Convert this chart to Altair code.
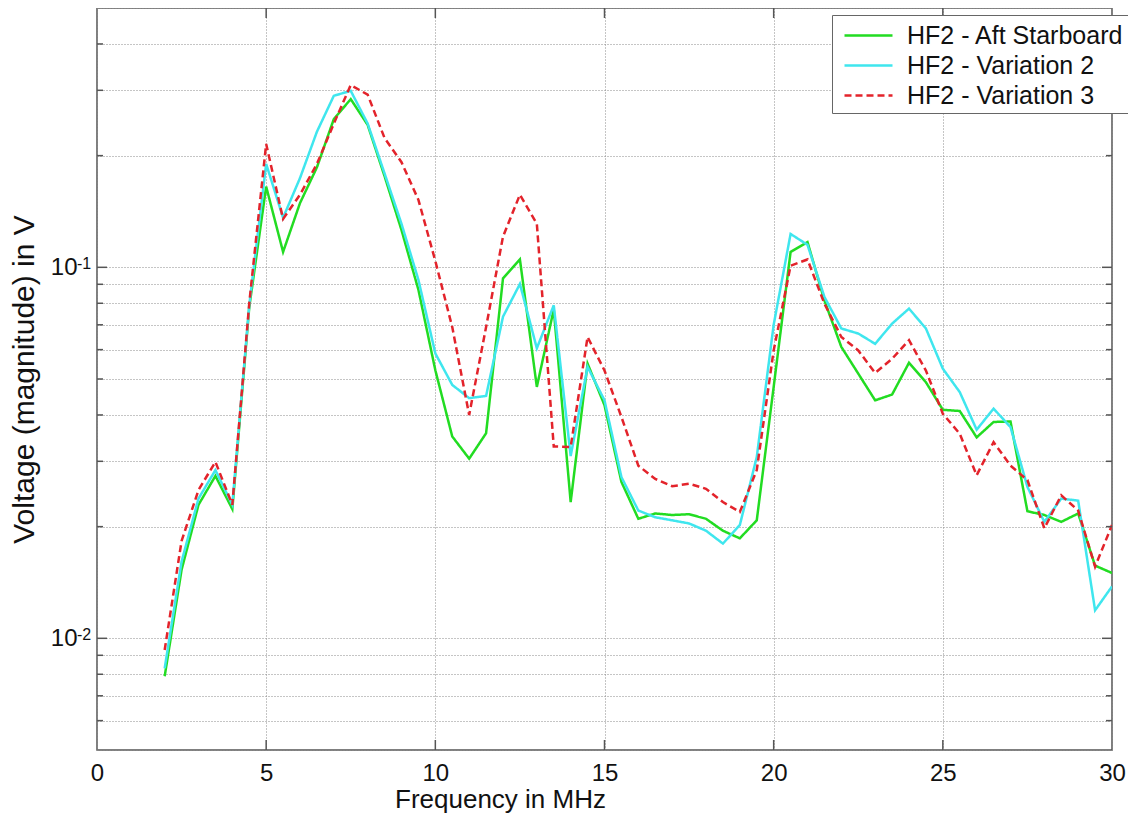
import altair as alt
import pandas as pd

# ---------------- data ----------------
freq = [2.0, 2.5, 3.0, 3.5, 4.0, 4.5, 5.0, 5.5, 6.0, 6.5, 7.0, 7.5, 8.0, 8.5,
        9.0, 9.5, 10.0, 10.5, 11.0, 11.5, 12.0, 12.5, 13.0, 13.5, 14.0, 14.5,
        15.0, 15.5, 16.0, 16.5, 17.0, 17.5, 18.0, 18.5, 19.0, 19.5, 20.0, 20.5,
        21.0, 21.5, 22.0, 22.5, 23.0, 23.5, 24.0, 24.5, 25.0, 25.5, 26.0, 26.5,
        27.0, 27.5, 28.0, 28.5, 29.0, 29.5, 30.0]

aft_starboard = [0.0079, 0.0153, 0.0229, 0.0274, 0.0223, 0.078, 0.165, 0.110,
                 0.149, 0.186, 0.251, 0.284, 0.242, 0.176, 0.126, 0.087, 0.0528,
                 0.035, 0.0305, 0.0357, 0.0934, 0.105, 0.0476, 0.077, 0.0233,
                 0.055, 0.0425, 0.0264, 0.021, 0.0217, 0.0215, 0.0216, 0.021,
                 0.0195, 0.0186, 0.0208, 0.0476, 0.110, 0.117, 0.0814, 0.061,
                 0.0517, 0.0438, 0.0454, 0.0553, 0.049, 0.0413, 0.041, 0.0348,
                 0.0383, 0.0384, 0.022, 0.0215, 0.0206, 0.0217, 0.0157, 0.015]

variation_2 = [0.0083, 0.0161, 0.0238, 0.0284, 0.0229, 0.079, 0.190, 0.136,
               0.174, 0.232, 0.290, 0.299, 0.244, 0.179, 0.131, 0.0925, 0.0586,
               0.0482, 0.0444, 0.045, 0.0736, 0.0902, 0.0605, 0.079, 0.031,
               0.0539, 0.0438, 0.0272, 0.0221, 0.0212, 0.0208, 0.0204, 0.0195,
               0.018, 0.0202, 0.0308, 0.070, 0.123, 0.115, 0.0832, 0.0684,
               0.0663, 0.0622, 0.0705, 0.0774, 0.0684, 0.0533, 0.0461, 0.0365,
               0.0416, 0.0371, 0.0256, 0.0206, 0.0238, 0.0235, 0.0119, 0.0138]

variation_3 = [0.0093, 0.0183, 0.0251, 0.0299, 0.0229, 0.080, 0.215, 0.135,
               0.157, 0.190, 0.244, 0.310, 0.292, 0.223, 0.192, 0.152, 0.104,
               0.069, 0.040, 0.069, 0.121, 0.157, 0.131, 0.0329, 0.0328,
               0.0649, 0.0527, 0.0395, 0.0292, 0.0269, 0.0257, 0.0261, 0.0253,
               0.0233, 0.0219, 0.0284, 0.0597, 0.101, 0.105, 0.0798, 0.0649,
               0.0597, 0.0519, 0.0567, 0.0636, 0.0527, 0.0403, 0.0356, 0.0275,
               0.0338, 0.0292, 0.0267, 0.0198, 0.0243, 0.0221, 0.0156, 0.0202]

series_names = ["HF2 - Aft Starboard", "HF2 - Variation 2", "HF2 - Variation 3"]
series_colors = ["#22dc22", "#3fe6ee", "#e3232b"]
series_dash = [[1, 0], [1, 0], [7, 4]]

x_tick_values = [0, 5, 10, 15, 20, 25, 30]
x_inner_ticks = [5, 10, 15, 20, 25]
y_grid_values = [0.005, 0.006, 0.007, 0.008, 0.009,
                 0.01, 0.02, 0.03, 0.04, 0.05, 0.06, 0.07, 0.08, 0.09,
                 0.1, 0.2, 0.3, 0.4, 0.5]
y_minor_ticks = [0.006, 0.007, 0.008, 0.009, 0.02, 0.03, 0.04, 0.05, 0.06,
                 0.07, 0.08, 0.09, 0.2, 0.3, 0.4]
y_major_ticks = [0.01, 0.1]
y_exponents = ["-2", "-1"]

x_title = "Frequency in MHz"
y_title = "Voltage (magnitude) in V"

# ---------------- tables ----------------
rows = []
for name, vals in zip(series_names, [aft_starboard, variation_2, variation_3]):
    for f, v in zip(freq, vals):
        rows.append({"freq": f, "v": v, "series": name})
df = pd.DataFrame(rows)

W, H = 1015, 742
FONT = "Liberation Sans"
FRAME = "#555555"

xscale = alt.Scale(domain=[0, 30], nice=False, zero=False)
yscale = alt.Scale(type="log", domain=[0.005, 0.5], nice=False)

x_axis = alt.Axis(values=x_tick_values, title=x_title, grid=True,
                  labelPadding=11, labelFlush=False, titleX=403, titleY=57,
                  titleAlign="center", titleBaseline="alphabetic", titleFontSize=26)
y_axis = alt.Axis(values=y_grid_values, title=y_title, grid=True,
                  labelExpr="(datum.value == 0.1 || datum.value == 0.01) ? '10' : ''",
                  labelPadding=20, titleX=-64, titleY=H / 2,
                  titleAngle=-90, titleAlign="center", titleBaseline="alphabetic",
                  titleFontSize=30)

legend = alt.Legend(title=None, orient="none", legendX=735, legendY=7,
                    fillColor="white", strokeColor="#666666", padding=4,
                    labelFontSize=25, labelFont=FONT, labelColor="#111111",
                    symbolType="M-1.6,0L1.6,0", symbolSize=900, symbolStrokeWidth=2.5,
                    symbolOffset=16, labelOffset=22, labelLimit=400, rowPadding=-2)

lines = alt.Chart(df).mark_line(strokeWidth=2.5, clip=True).encode(
    x=alt.X("freq:Q", scale=xscale, axis=x_axis),
    y=alt.Y("v:Q", scale=yscale, axis=y_axis),
    color=alt.Color("series:N", scale=alt.Scale(domain=series_names, range=series_colors),
                    legend=legend),
    strokeDash=alt.StrokeDash("series:N",
                              scale=alt.Scale(domain=series_names, range=series_dash),
                              legend=legend),
)

xt = pd.DataFrame({"xt": x_inner_ticks})
x_ticks_bottom = alt.Chart(xt).mark_rule(color=FRAME, strokeWidth=1.5).encode(
    x=alt.X("xt:Q", axis=x_axis), y=alt.value(H), y2=alt.value(H - 10))
x_ticks_top = alt.Chart(xt).mark_rule(color=FRAME, strokeWidth=1.5).encode(
    x=alt.X("xt:Q", axis=x_axis), y=alt.value(0), y2=alt.value(10))

ymin = pd.DataFrame({"yt": y_minor_ticks})
ymaj = pd.DataFrame({"yt": y_major_ticks})
y_min_left = alt.Chart(ymin).mark_rule(color=FRAME, strokeWidth=1.5).encode(
    y=alt.Y("yt:Q", axis=y_axis), x=alt.value(0), x2=alt.value(6))
y_min_right = alt.Chart(ymin).mark_rule(color=FRAME, strokeWidth=1.5).encode(
    y=alt.Y("yt:Q", axis=y_axis), x=alt.value(W - 6), x2=alt.value(W))
y_maj_left = alt.Chart(ymaj).mark_rule(color=FRAME, strokeWidth=1.5).encode(
    y=alt.Y("yt:Q", axis=y_axis), x=alt.value(0), x2=alt.value(10))
y_maj_right = alt.Chart(ymaj).mark_rule(color=FRAME, strokeWidth=1.5).encode(
    y=alt.Y("yt:Q", axis=y_axis), x=alt.value(W - 10), x2=alt.value(W))

exp_df = pd.DataFrame({"yv": y_major_ticks, "e": y_exponents})
exponents = alt.Chart(exp_df).mark_text(align="left", baseline="top", fontSize=16,
                                        font=FONT, color="#111111", dy=-11).encode(
    y=alt.Y("yv:Q", axis=y_axis), x=alt.value(-20), text="e:N")

chart = alt.layer(
    lines, x_ticks_bottom, x_ticks_top, y_min_left, y_min_right,
    y_maj_left, y_maj_right, exponents
).properties(
    width=W, height=H,
    padding={"left": 89, "top": 0, "right": 16, "bottom": 63},
    autosize=alt.AutoSizeParams(type="none"),
    background="white",
).configure_view(
    stroke=FRAME, strokeWidth=1.5
).configure_axis(
    labelFont=FONT, labelFontSize=24, labelColor="#111111",
    titleFont=FONT, titleFontWeight="normal", titleColor="#111111",
    domain=False, ticks=False,
    gridColor="#8a8a8a", gridDash=[1, 2], gridWidth=1, gridOpacity=1,
)

chart.save("out.html", embed_options={"renderer": "svg", "actions": False})
